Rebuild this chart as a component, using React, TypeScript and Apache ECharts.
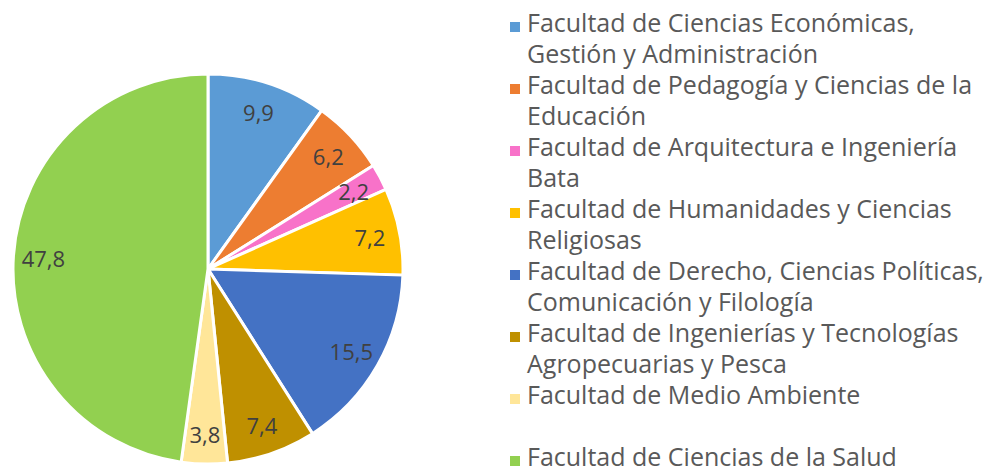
import React, { useEffect, useRef } from "react";
import * as echarts from "echarts";

const categories = [
  "Facultad de Ciencias Económicas, Gestión y Administración",
  "Facultad de Pedagogía y Ciencias de la Educación",
  "Facultad de Arquitectura e Ingeniería Bata",
  "Facultad de Humanidades y Ciencias Religiosas",
  "Facultad de Derecho, Ciencias Políticas, Comunicación y Filología",
  "Facultad de Ingenierías y Tecnologías Agropecuarias y Pesca",
  "Facultad de Medio Ambiente",
  "Facultad de Ciencias de la Salud",
];

const legendLabels = [
  "Facultad de Ciencias Económicas,\nGestión y Administración",
  "Facultad de Pedagogía y Ciencias de la\nEducación",
  "Facultad de Arquitectura e Ingeniería\nBata",
  "Facultad de Humanidades y Ciencias\nReligiosas",
  "Facultad de Derecho, Ciencias Políticas,\nComunicación y Filología",
  "Facultad de Ingenierías y Tecnologías\nAgropecuarias y Pesca",
  "Facultad de Medio Ambiente\n",
  "Facultad de Ciencias de la Salud\n",
];

const values = [9.9, 6.2, 2.2, 7.2, 15.5, 7.4, 3.8, 47.8];

const colors = [
  "#5B9BD5",
  "#ED7D31",
  "#F872C9",
  "#FFC000",
  "#4472C4",
  "#BF9000",
  "#FFE699",
  "#92D050",
];

const FONT = "'Open Sans', 'Noto Sans', sans-serif";

export default function App() {
  const ref = useRef<HTMLDivElement>(null);

  useEffect(() => {
    if (!ref.current) return;
    const chart = echarts.init(ref.current, undefined, { renderer: "svg" });
    const data = categories.map((name, i) => ({
      name,
      value: values[i],
      itemStyle: { color: colors[i] },
    }));
    const labelData = categories.map((name, i) => ({ name, value: values[i] }));

    chart.setOption({
      animation: false,
      backgroundColor: "#ffffff",
      textStyle: { fontFamily: FONT },
      legend: {
        orient: "vertical",
        left: 510,
        top: 6,
        padding: 0,
        height: 520,
        itemGap: 0,
        itemWidth: 10,
        itemHeight: 62,
        icon: "path://M0,0L0.01,0L0,0.01Z M0,16L10,16L10,26L0,26Z M0,62L0.01,62L0,61.99Z",
        itemStyle: { borderWidth: 0 },
        data: categories,
        formatter: (name: string) => legendLabels[categories.indexOf(name)],
        textStyle: {
          fontFamily: FONT,
          fontSize: 25,
          color: "#595959",
          lineHeight: 31,
          padding: [0, 0, 0, 2],
        },
      },
      series: [
        {
          type: "pie",
          center: [208, 269],
          radius: [0, 195],
          startAngle: 90,
          clockwise: true,
          silent: true,
          label: { show: false },
          labelLine: { show: false },
          itemStyle: { borderColor: "#ffffff", borderWidth: 3 },
          data,
        },
        {
          type: "pie",
          center: [208, 269],
          radius: [129, 195],
          startAngle: 90,
          clockwise: true,
          silent: true,
          itemStyle: { color: "rgba(0,0,0,0)", borderWidth: 0 },
          label: {
            show: true,
            position: "inside",
            fontFamily: FONT,
            fontSize: 22,
            color: "#404040",
            formatter: (p: any) => String(p.value).replace(".", ","),
          },
          labelLine: { show: false },
          data: labelData,
        },
      ],
    });
    return () => chart.dispose();
  }, []);

  return (
    <div
      ref={ref}
      style={{ position: "fixed", left: 0, top: 0, width: 997, height: 469 }}
    />
  );
}
